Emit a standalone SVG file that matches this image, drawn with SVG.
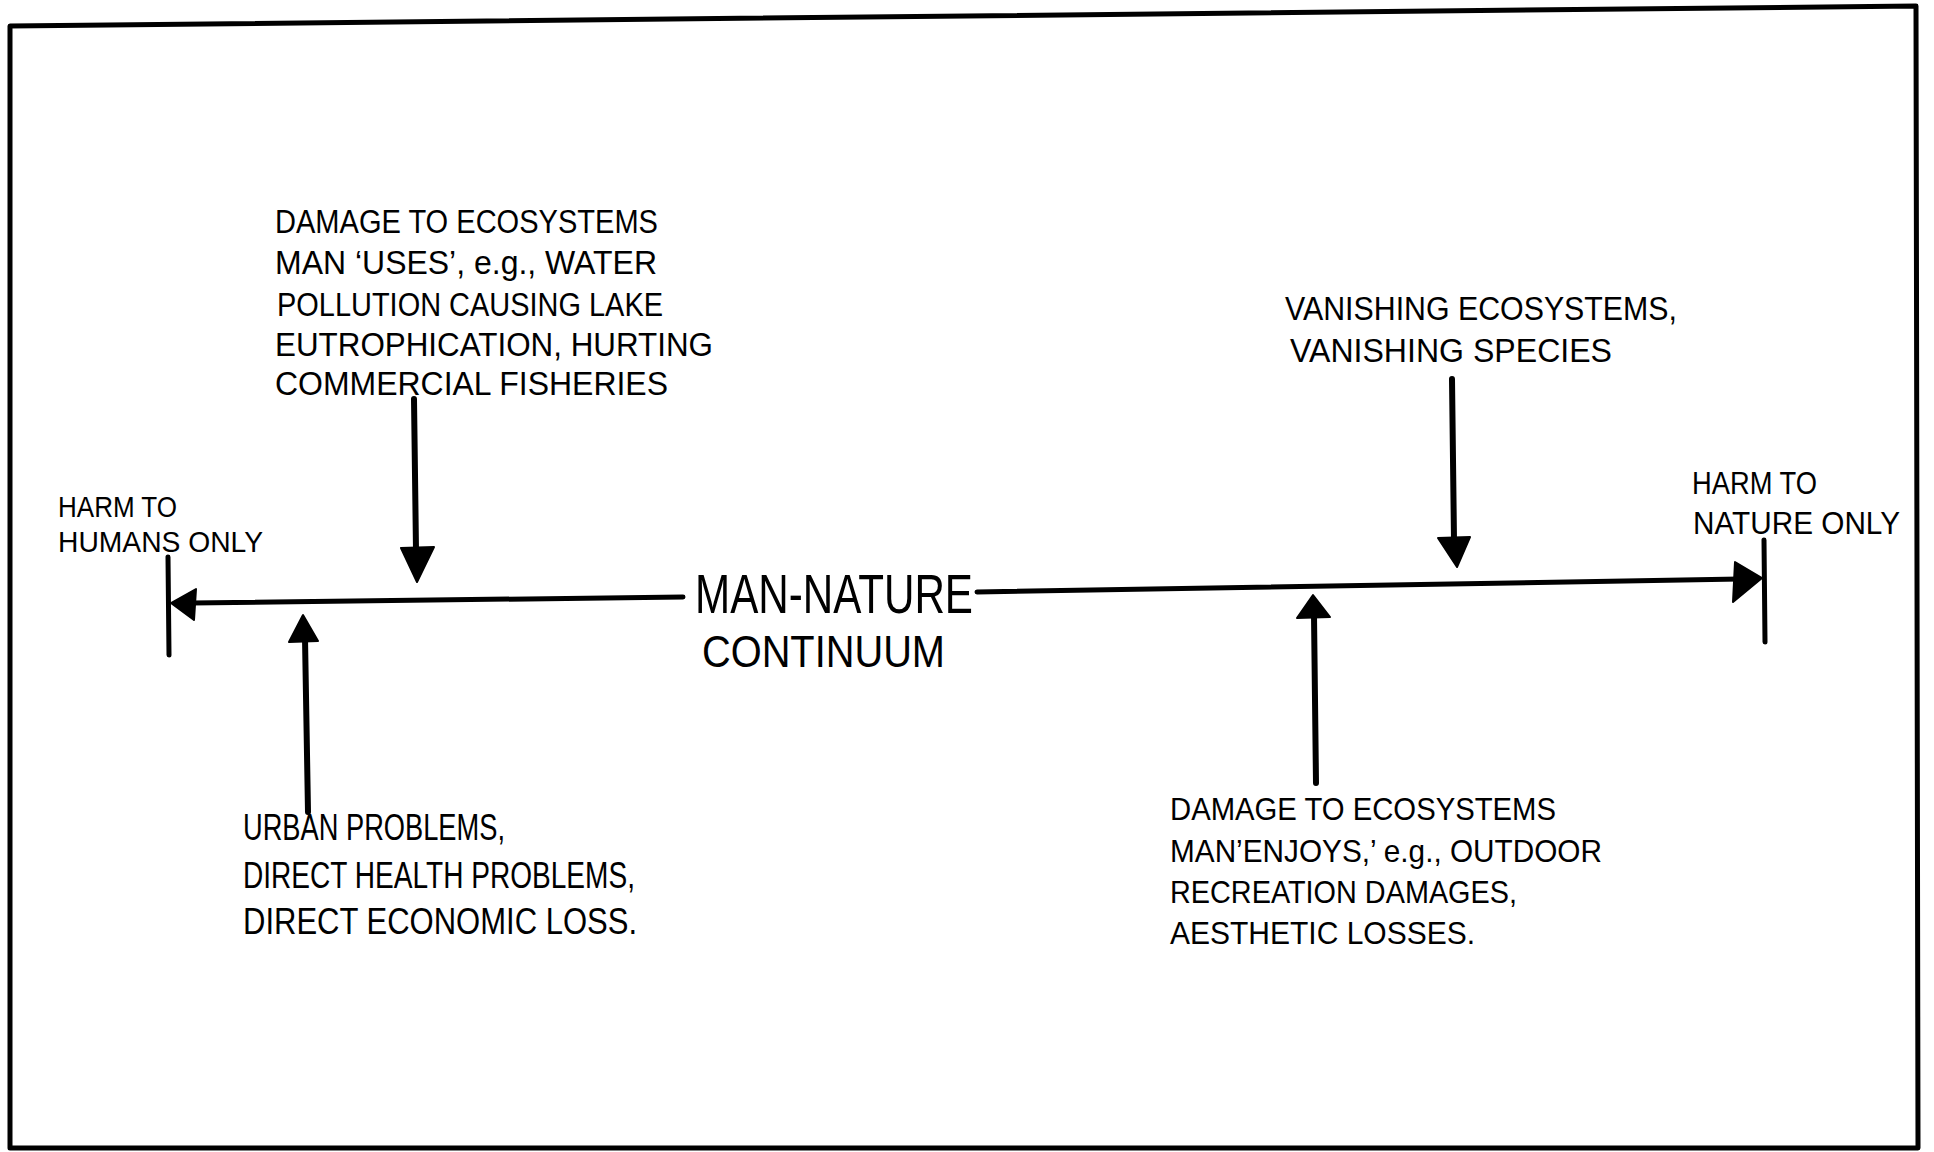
<svg xmlns="http://www.w3.org/2000/svg" width="1934" height="1152" viewBox="0 0 1934 1152">
  <style>
    .t { font-family: "Liberation Sans", Arial, sans-serif; fill: #000; }
    .ln { stroke: #000; fill: none; stroke-linecap: round; stroke-linejoin: round; }
    .hd { fill: #000; stroke: #000; stroke-width: 2; stroke-linejoin: round; }
  </style>
  <rect x="0" y="0" width="1934" height="1152" fill="#fff"/>

  <!-- hand-ruled frame -->
  <g id="frame" class="ln" stroke-width="5">
    <path d="M10 1148 L10 26 L1916 6 L1918 1148 Z"/>
  </g>

  <!-- axis, ticks and arrows -->
  <g id="connectors">
    <!-- continuum axis, left half -->
    <path class="ln" stroke-width="5" d="M192 603 L683 597"/>
    <polygon class="hd" points="171,603 196,589 194,620"/>
    <path class="ln" stroke-width="5" d="M168 557 L169 655"/>
    <!-- continuum axis, right half -->
    <path class="ln" stroke-width="5" d="M977 592 L1740 579"/>
    <polygon class="hd" points="1762,578 1735,562 1733,602"/>
    <path class="ln" stroke-width="5" d="M1764 540 L1765 642"/>
    <!-- uses: down arrow -->
    <path class="ln" stroke-width="6" d="M414 399 L416 550"/>
    <polygon class="hd" points="401,548 434,547 417,582"/>
    <!-- urban: up arrow -->
    <path class="ln" stroke-width="6" d="M305 638 L308 812"/>
    <polygon class="hd" points="303,615 289,642 318,641"/>
    <!-- vanishing: down arrow -->
    <path class="ln" stroke-width="6" d="M1452 379 L1454 540"/>
    <polygon class="hd" points="1438,538 1470,537 1457,567"/>
    <!-- enjoys: up arrow -->
    <path class="ln" stroke-width="6" d="M1314 615 L1316 783"/>
    <polygon class="hd" points="1313,595 1297,618 1330,617"/>
  </g>

  <g id="harm-humans" class="t" font-size="30">
    <text x="58" y="517" textLength="119" lengthAdjust="spacingAndGlyphs">HARM TO</text>
    <text x="58" y="552" textLength="205" lengthAdjust="spacingAndGlyphs">HUMANS ONLY</text>
  </g>

  <g id="harm-nature" class="t" font-size="32">
    <text x="1692" y="494" textLength="125" lengthAdjust="spacingAndGlyphs">HARM TO</text>
    <text x="1693" y="534" textLength="207" lengthAdjust="spacingAndGlyphs">NATURE ONLY</text>
  </g>

  <g id="continuum" class="t">
    <text x="695" y="613" font-size="56" textLength="278" lengthAdjust="spacingAndGlyphs">MAN-NATURE</text>
    <text x="702" y="667" font-size="44" textLength="243" lengthAdjust="spacingAndGlyphs">CONTINUUM</text>
  </g>

  <g id="uses" class="t" font-size="33">
    <text x="275" y="233" textLength="383" lengthAdjust="spacingAndGlyphs">DAMAGE TO ECOSYSTEMS</text>
    <text x="275" y="274" textLength="382" lengthAdjust="spacingAndGlyphs">MAN ‘USES’, e.g., WATER</text>
    <text x="277" y="316" textLength="386" lengthAdjust="spacingAndGlyphs">POLLUTION CAUSING LAKE</text>
    <text x="275" y="356" textLength="438" lengthAdjust="spacingAndGlyphs">EUTROPHICATION, HURTING</text>
    <text x="275" y="395" textLength="393" lengthAdjust="spacingAndGlyphs">COMMERCIAL FISHERIES</text>
  </g>

  <g id="vanishing" class="t" font-size="33">
    <text x="1285" y="320" textLength="392" lengthAdjust="spacingAndGlyphs">VANISHING ECOSYSTEMS,</text>
    <text x="1290" y="362" textLength="322" lengthAdjust="spacingAndGlyphs">VANISHING SPECIES</text>
  </g>

  <g id="urban" class="t" font-size="36">
    <text x="243" y="840" textLength="262" lengthAdjust="spacingAndGlyphs">URBAN PROBLEMS,</text>
    <text x="243" y="888" textLength="392" lengthAdjust="spacingAndGlyphs">DIRECT HEALTH PROBLEMS,</text>
    <text x="243" y="934" textLength="394" lengthAdjust="spacingAndGlyphs">DIRECT ECONOMIC LOSS.</text>
  </g>

  <g id="enjoys" class="t" font-size="32">
    <text x="1170" y="820" textLength="386" lengthAdjust="spacingAndGlyphs">DAMAGE TO ECOSYSTEMS</text>
    <text x="1170" y="862" textLength="432" lengthAdjust="spacingAndGlyphs">MAN’ENJOYS,’ e.g., OUTDOOR</text>
    <text x="1170" y="903" textLength="347" lengthAdjust="spacingAndGlyphs">RECREATION DAMAGES,</text>
    <text x="1170" y="944" textLength="305" lengthAdjust="spacingAndGlyphs">AESTHETIC LOSSES.</text>
  </g>
</svg>
